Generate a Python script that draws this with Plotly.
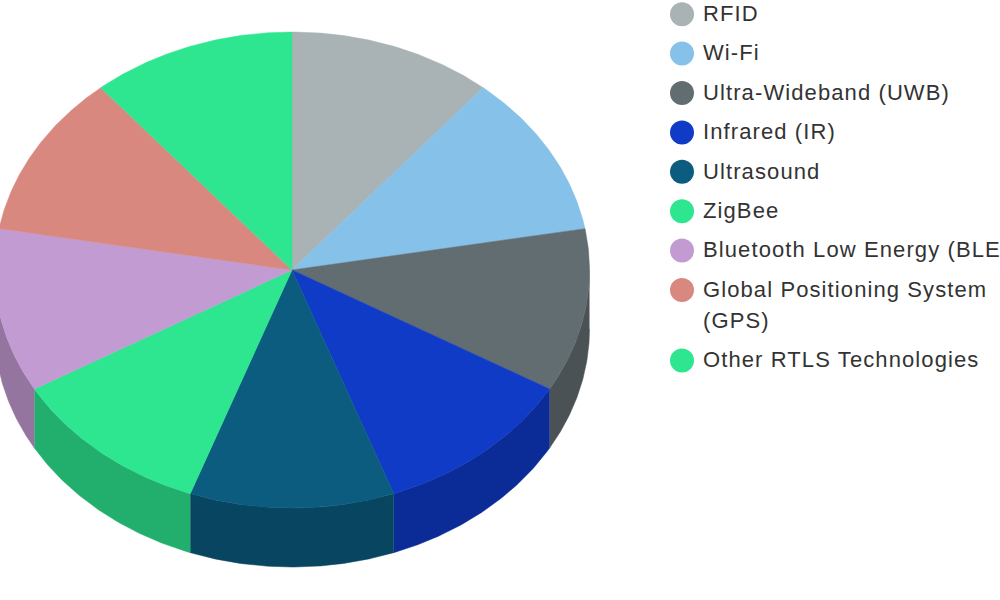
import math
import plotly.graph_objects as go

categories = ["RFID", "Wi-Fi", "Ultra-Wideband (UWB)", "Infrared (IR)", "Ultrasound", "ZigBee",
              "Bluetooth Low Energy (BLE)", "Global Positioning System<br>(GPS)", "Other RTLS Technologies"]
values = [11.11, 11.11, 11.11, 11.11, 11.11, 11.11, 11.11, 11.11, 11.11]
colors = ["#A9B2B5", "#85C1E9", "#626D71", "#0F3BC6", "#0B5C7F", "#2EE68F", "#C39BD3", "#D98880", "#2EE68F"]

CX, CY, RX, RY, DEPTH = 292, 270, 297.5, 238, 59
LEGEND_MARK_X, LEGEND_TEXT_X = 682, 703
LEGEND_TOP, LEGEND_STEP, LINE_H, TEXT_DY = 14.2, 39.4, 31, 1.3


def shade(hex_color, k=0.76):
    return "#" + "".join(f"{int(int(hex_color[i:i+2], 16) * k):02x}" for i in (1, 3, 5))


def arc(a0, a1, dy=0):
    n = max(2, int(abs(a1 - a0) * 2) + 1)
    ts = [math.radians(a0 + (a1 - a0) * i / (n - 1)) for i in range(n)]
    return [CX + RX * math.sin(t) for t in ts], [CY + dy - RY * math.cos(t) for t in ts]


fig = go.Figure()
total = sum(values)
start = 0.0
spans = []
for v in values:
    spans.append((start, start + v / total * 360))
    start += v / total * 360

# outer wall of every slice facing the viewer
for (a0, a1), c in zip(spans, colors):
    lo, hi = max(a0, 90), min(a1, 270)
    if lo >= hi:
        continue
    xt, yt = arc(lo, hi)
    xb, yb = arc(lo, hi, DEPTH)
    fig.add_trace(go.Scatter(x=xt + xb[::-1], y=yt + yb[::-1], mode="lines", fill="toself",
                             fillcolor=shade(c), line=dict(color=shade(c), width=0.5),
                             hoverinfo="skip", showlegend=False))

# top faces
for (a0, a1), c, name in zip(spans, colors, categories):
    xs, ys = arc(a0, a1)
    fig.add_trace(go.Scatter(x=[CX] + xs + [CX], y=[CY] + ys + [CY], mode="lines", fill="toself",
                             fillcolor=c, line=dict(color=c, width=0.5), name=name.replace("<br>", " "),
                             hoverinfo="name", showlegend=False))

# legend rows
row_y, text_y, text_lines = [], [], []
y = LEGEND_TOP
for name in categories:
    row_y.append(y)
    for i, line in enumerate(name.split("<br>")):
        text_lines.append(line)
        text_y.append(y + TEXT_DY + i * LINE_H)
    y += LEGEND_STEP + name.count("<br>") * LINE_H

fig.add_trace(go.Scatter(x=[LEGEND_MARK_X] * len(categories), y=row_y, mode="markers",
                         marker=dict(size=24, color=colors, line=dict(width=0)),
                         hoverinfo="skip", showlegend=False))
fig.add_trace(go.Scatter(x=[LEGEND_TEXT_X] * len(text_lines), y=text_y, mode="text", text=text_lines,
                         textposition="middle right",
                         textfont=dict(family="Liberation Sans", size=22, color="#333333"),
                         hoverinfo="skip", showlegend=False, cliponaxis=False))

fig.update_layout(width=1000, height=600, margin=dict(l=0, r=0, t=0, b=0),
                  paper_bgcolor="white", plot_bgcolor="white", showlegend=False,
                  xaxis=dict(range=[0, 1000], visible=False, fixedrange=True),
                  yaxis=dict(range=[600, 0], visible=False, fixedrange=True))
fig.write_html("out.html", config={"displayModeBar": False},
               post_script="document.body.style.margin='0';"
                           "document.querySelectorAll('.textpoint text').forEach(function(t){t.style.letterSpacing='1.1px';});")
